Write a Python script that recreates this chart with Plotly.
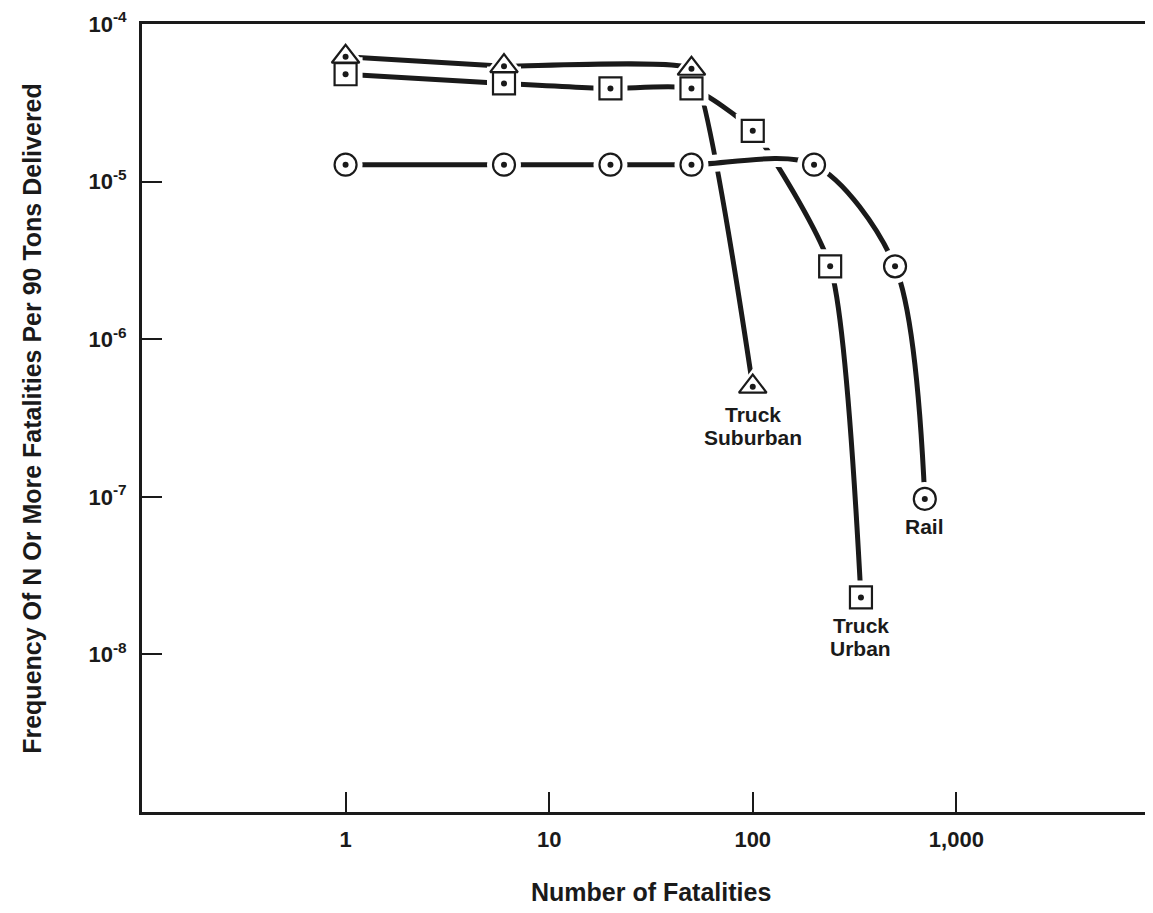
import math
import plotly.graph_objects as go

# ---- data ----
sub_x = [1, 6, 50, 100]
sub_y = [6.2e-5, 5.4e-5, 5.2e-5, 5.0e-7]

urb_x = [1, 6, 20, 50, 100, 240, 340]
urb_y = [4.8e-5, 4.2e-5, 3.9e-5, 3.9e-5, 2.1e-5, 2.9e-6, 2.3e-8]

rail_x = [1, 6, 20, 50, 200, 500, 700]
rail_y = [1.28e-5, 1.28e-5, 1.28e-5, 1.28e-5, 1.28e-5, 2.9e-6, 9.7e-8]

x_tickvals = [1, 10, 100, 1000]
x_ticktext = ["1", "10", "100", "1,000"]
y_tickvals = [1e-4, 1e-5, 1e-6, 1e-7, 1e-8]
y_ticktext = ["10<sup>-4</sup>", "10<sup>-5</sup>", "10<sup>-6</sup>",
              "10<sup>-7</sup>", "10<sup>-8</sup>"]

labels = [(["Truck", "Suburban"], sub_x, sub_y),
          (["Rail"], rail_x, rail_y),
          (["Truck", "Urban"], urb_x, urb_y)]

INK = "#1a1a1a"
FONT = "Liberation Sans"

fig = go.Figure()

# (x, y, marker symbol, marker size, spline smoothing)
series = [(sub_x, sub_y, "triangle-up", 24, 0.28),
          (urb_x, urb_y, "square", 22, 0.6),
          (rail_x, rail_y, "circle", 22, 0.85)]

# lines with white halos so later curves cut through earlier ones
for xs, ys, sym, sz, sm in series:
    fig.add_trace(go.Scatter(x=xs, y=ys, mode="lines",
                             line=dict(color="white", width=17, shape="spline", smoothing=sm),
                             hoverinfo="skip", showlegend=False))
    fig.add_trace(go.Scatter(x=xs, y=ys, mode="lines",
                             line=dict(color=INK, width=5, shape="spline", smoothing=sm),
                             hoverinfo="skip", showlegend=False))

# white gaps around markers
for xs, ys, sym, sz, sm in series:
    fig.add_trace(go.Scatter(x=xs, y=ys, mode="markers",
                             marker=dict(symbol=sym, size=sz + 12, color="white",
                                         line=dict(width=0)),
                             hoverinfo="skip", showlegend=False))

# visible markers
for xs, ys, sym, sz, sm in series:
    fig.add_trace(go.Scatter(x=xs, y=ys, mode="markers",
                             marker=dict(symbol=sym, size=sz, color="white",
                                         line=dict(color=INK, width=2.2)),
                             showlegend=False))
    fig.add_trace(go.Scatter(x=xs, y=ys, mode="markers",
                             marker=dict(symbol="circle", size=6, color=INK,
                                         line=dict(width=0)),
                             hoverinfo="skip", showlegend=False))

annotations = []
for lines, xs, ys in labels:
    for i, t in enumerate(lines):
        annotations.append(dict(x=math.log10(xs[-1]), y=math.log10(ys[-1]),
                                xref="x", yref="y", text=t, showarrow=False,
                                yanchor="middle", xanchor="center",
                                yshift=-28 - 23 * i,
                                font=dict(family=FONT, size=21, color=INK, weight="bold")))

annotations.append(dict(x=-0.109, y=0.5, xref="paper", yref="paper",
                        text="Frequency Of N Or More Fatalities Per 90 Tons Delivered",
                        textangle=-90, showarrow=False, xanchor="center", yanchor="middle",
                        font=dict(family=FONT, size=25, color=INK, weight="bold")))
annotations.append(dict(x=0.5035, y=-0.101, xref="paper", yref="paper",
                        text="Number of Fatalities", showarrow=False,
                        xanchor="center", yanchor="middle",
                        font=dict(family=FONT, size=25, color=INK, weight="bold")))

fig.update_layout(
    width=1145, height=897,
    margin=dict(l=134, r=0, t=14, b=93),
    paper_bgcolor="white", plot_bgcolor="white",
    annotations=annotations,
    xaxis=dict(type="log", range=[-1.0, 3.966], showgrid=False, zeroline=False,
               showline=True, linecolor=INK, linewidth=3, mirror=True,
               ticks="inside", ticklen=20, tickwidth=2, tickcolor=INK,
               tickvals=x_tickvals, ticktext=x_ticktext,
               ticklabelstandoff=6, ticklabeloverflow="allow",
               tickfont=dict(family=FONT, size=22, color=INK, weight="bold")),
    yaxis=dict(type="log", range=[-9, -4], showgrid=False, zeroline=False,
               showline=True, linecolor=INK, linewidth=3, mirror=False,
               ticks="inside", ticklen=20, tickwidth=2, tickcolor=INK,
               tickvals=y_tickvals, ticktext=y_ticktext,
               ticklabelstandoff=8, ticklabeloverflow="allow",
               tickfont=dict(family=FONT, size=22, color=INK, weight="bold")),
)

fig.write_html("out.html")
